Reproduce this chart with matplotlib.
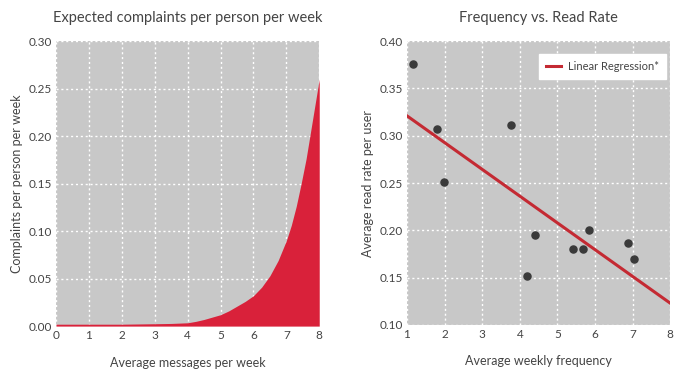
import numpy as np
import matplotlib
matplotlib.use('Agg')
import matplotlib.pyplot as plt

plt.rcParams['font.family'] = ['Lato', 'DejaVu Sans']

# left chart: expected complaints curve
msg_x = [0, 1, 2, 3, 3.5, 4, 4.25, 4.5, 4.75, 5, 5.25, 5.5, 5.75, 6, 6.25, 6.5, 6.75, 7,
         7.15, 7.3, 7.45, 7.6, 7.7, 7.8, 7.9, 8]
complaints = [0.002, 0.002, 0.002, 0.0025, 0.0028, 0.0035, 0.005, 0.007, 0.0095, 0.012,
              0.016, 0.021, 0.026, 0.032, 0.041, 0.053, 0.069, 0.09,
              0.106, 0.126, 0.15, 0.176, 0.197, 0.218, 0.239, 0.26]

# right chart: frequency vs read rate
freq = [1.16, 1.79, 1.98, 3.77, 4.18, 4.41, 5.42, 5.68, 5.83, 6.88, 7.03]
read_rate = [0.376, 0.307, 0.251, 0.311, 0.152, 0.195, 0.180, 0.180, 0.200, 0.187, 0.170]
reg_x = [1, 8]
reg_y = [0.321, 0.123]

red = '#d9213a'
bg = '#c8c8c8'
txt = '#444444'

fig = plt.figure(figsize=(6.91, 3.77), dpi=100)
ax1 = fig.add_axes([0.081, 0.135, 0.381, 0.756])
ax2 = fig.add_axes([0.589, 0.138, 0.381, 0.753])

for ax in (ax1, ax2):
    ax.set_facecolor(bg)
    ax.grid(True, color='white', linestyle=(0, (1.5, 2)), linewidth=1.0)
    ax.set_axisbelow(True)
    for s in ax.spines.values():
        s.set_visible(False)
    ax.tick_params(length=0, labelsize=8.5, colors=txt, pad=3)

ax1.fill_between(msg_x, 0, complaints, color=red, linewidth=0, zorder=3)
ax1.set_xlim(0, 8)
ax1.set_ylim(0, 0.30)
ax1.set_xticks(range(0, 9))
ax1.set_yticks(np.arange(0, 0.31, 0.05))
ax1.set_yticklabels(['%.2f' % v for v in np.arange(0, 0.31, 0.05)])
ax1.set_title('Expected complaints per person per week', fontsize=10.5, color=txt, pad=14)
ax1.set_xlabel('Average messages per week', fontsize=9, color=txt, labelpad=11)
ax1.set_ylabel('Complaints per person per week', fontsize=9, color=txt, labelpad=4)

ax2.plot(reg_x, reg_y, color='#c42a33', linewidth=2.2, label='Linear Regression*', zorder=3)
ax2.scatter(freq, read_rate, s=26, color='#3a3a3a', zorder=4)
ax2.set_xlim(1, 8)
ax2.set_ylim(0.10, 0.40)
ax2.set_xticks(range(1, 9))
ax2.set_yticks(np.arange(0.10, 0.41, 0.05))
ax2.set_yticklabels(['%.2f' % v for v in np.arange(0.10, 0.41, 0.05)])
ax2.set_title('Frequency vs. Read Rate', fontsize=10.5, color=txt, pad=14)
ax2.set_xlabel('Average weekly frequency', fontsize=9, color=txt, labelpad=11)
ax2.set_ylabel('Average read rate per user', fontsize=9, color=txt, labelpad=4)
leg = ax2.legend(loc='upper right', fontsize=8, frameon=True, fancybox=False,
                 borderpad=0.65, handlelength=1.4, handletextpad=0.6, borderaxespad=0,
                 bbox_to_anchor=(0.985, 0.955))
leg.get_frame().set_facecolor('white')
leg.get_frame().set_edgecolor('white')
leg.get_frame().set_alpha(1)
for t in leg.get_texts():
    t.set_color(txt)

fig.savefig('out.png', dpi=100)
